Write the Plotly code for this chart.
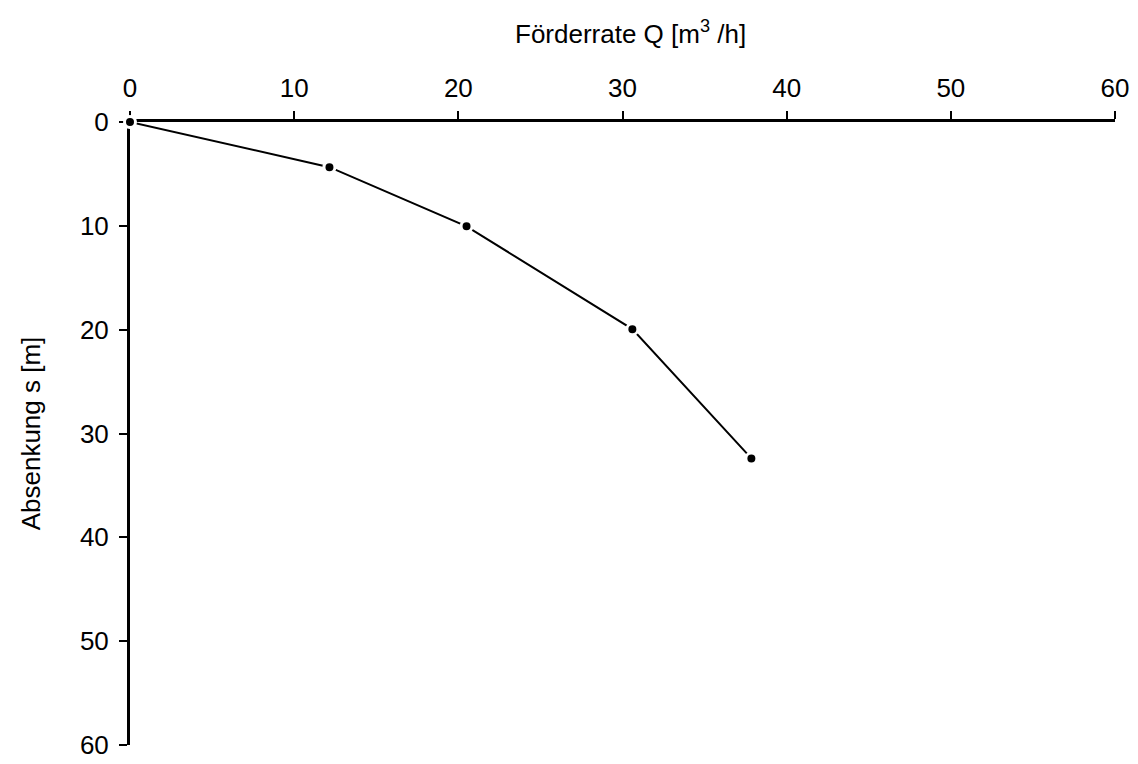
import plotly.graph_objects as go

# Data
foerderrate_q = [0, 12.15, 20.5, 30.6, 37.85]
absenkung_s = [0, 4.35, 10.05, 19.95, 32.4]
x_ticks = [0, 10, 20, 30, 40, 50, 60]
y_ticks = [0, 10, 20, 30, 40, 50, 60]

font_family = "Liberation Sans, Arial, sans-serif"

fig = go.Figure()
fig.add_trace(go.Scatter(
    x=foerderrate_q, y=absenkung_s,
    mode="lines+markers",
    line=dict(color="black", width=2),
    marker=dict(color="black", size=11, line=dict(color="white", width=3)),
    cliponaxis=False,
    showlegend=False,
))

fig.update_layout(
    width=1138, height=764,
    margin=dict(l=122, r=31, t=114, b=18),
    paper_bgcolor="white", plot_bgcolor="white",
    font=dict(family=font_family, size=26, color="black"),
    xaxis=dict(
        side="top", range=[0, 60], tickvals=x_ticks,
        showline=True, linecolor="black", linewidth=3,
        ticks="outside", ticklen=8, tickwidth=2, tickcolor="black",
        showgrid=False, zeroline=False, layer="below traces",
        ticklabelstandoff=4,
        tickfont=dict(size=26),
    ),
    yaxis=dict(
        range=[60, 0], tickvals=y_ticks,
        showline=True, linecolor="black", linewidth=3,
        ticks="outside", ticklen=8, tickwidth=2, tickcolor="black",
        showgrid=False, zeroline=False, layer="below traces",
        ticklabelstandoff=5,
        title=dict(text="Absenkung s [m]", standoff=32, font=dict(size=26)),
        tickfont=dict(size=26),
    ),
    annotations=[dict(
        text="Förderrate Q [m<sup>3</sup> /h]",
        xref="paper", yref="paper", x=0.508, y=1,
        xanchor="center", yanchor="middle", yshift=90,
        showarrow=False, font=dict(size=26),
    )],
)

fig.write_html("out.html")
